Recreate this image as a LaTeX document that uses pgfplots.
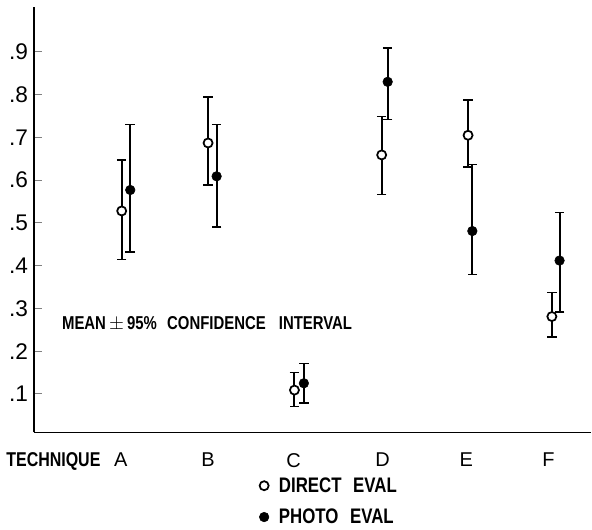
\documentclass[border=0pt]{standalone}
\usepackage{pgfplots}
\pgfplotsset{compat=1.18}
\usepackage{pgfplotstable}
\usepackage{fontspec}
\setmainfont{Liberation Sans}
\newfontfamily\cond[FakeStretch=0.8]{Liberation Sans}
\pgfplotstableread{
x y ep em
1.01 0.528 0.119 0.114
2.02 0.687 0.108 0.098
3.03 0.109 0.041 0.038
4.05 0.659 0.090 0.093
5.06 0.705 0.083 0.074
6.04 0.281 0.056 0.048
}\direct
\pgfplotstableread{
x y ep em
1.11 0.577 0.153 0.145
2.12 0.609 0.121 0.119
3.14 0.125 0.046 0.046
4.12 0.830 0.079 0.088
5.11 0.481 0.156 0.102
6.13 0.412 0.112 0.121
}\photo
\begin{document}
\begin{tikzpicture}
\begin{axis}[name=ax,
  scale only axis, width=418.5pt, height=319.5pt,
  xmin=-0.016, xmax=6.5, ymin=0.01, ymax=1.005,
  axis lines=left, axis line style={-, line width=1.2pt},
  xtick={1,2.02,3.02,4.06,5.04,6.0},
  xticklabels={A,B,C,D,E,F},
  x tick style={draw=none},
  ytick={0.1,0.2,...,0.9},
  yticklabels={.1,.2,.3,.4,.5,.6,.7,.8,.9},
  y tick style={line width=0.8pt}, tick align=inside, major tick length=6pt,
  yticklabel style={font=\fontsize{17}{19}\selectfont, xshift=-1pt},
  xticklabel style={font=\fontsize{15}{17}\selectfont, yshift=-12pt},
  /pgf/number format/assume math mode=true,
  legend style={at={(rel axis cs:0.404,-0.105)}, anchor=north west, draw=none,
    fill=none, font=\cond\bfseries\fontsize{15.8}{17}\selectfont,
    row sep=11pt, inner sep=0pt, nodes={inner xsep=7.5pt, inner ysep=0pt}},
  legend cell align=left,
]
\addplot[only marks, mark=*, mark size=3.4pt, mark options={fill=white, draw=black, line width=1.3pt},
  error bars/.cd, y dir=both, y explicit,
  error bar style={line width=1.5pt, black},
  error mark options={rotate=90, mark size=3.6pt, line width=1.2pt, black}]
  table[x=x, y=y, y error plus=ep, y error minus=em]{\direct};
\addlegendentry{DIRECT\hspace{0.55em}EVAL}
\addplot[only marks, mark=*, mark size=3.6pt, mark options={fill=black, draw=black},
  error bars/.cd, y dir=both, y explicit,
  error bar style={line width=1.5pt, black},
  error mark options={rotate=90, mark size=3.6pt, line width=1.2pt, black}]
  table[x=x, y=y, y error plus=ep, y error minus=em]{\photo};
\addlegendentry{PHOTO\hspace{0.55em}EVAL}
\node[anchor=west, inner sep=0pt, font=\cond\bfseries\fontsize{14}{16}\selectfont]
  at (axis cs:0.31,0.265) {MEAN\,$\pm$\,95\%\hspace{0.55em}CONFIDENCE\hspace{0.7em}INTERVAL};
\end{axis}
\node[inner sep=0pt, font=\cond\bfseries\fontsize{15}{17}\selectfont]
  at ([shift={(14.6pt,-21.5pt)}]ax.south west) {TECHNIQUE};
\path ([shift={(-25.5pt,-72.75pt)}]ax.south west) rectangle ([yshift=5.25pt]ax.north east);
\end{tikzpicture}
\end{document}
